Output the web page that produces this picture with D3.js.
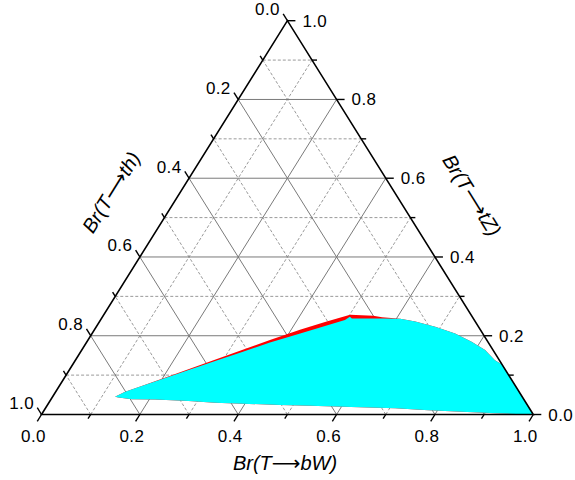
<!DOCTYPE html>
<html>
<head>
	<meta charset="utf-8">
	<title>ternary</title>
	<script src="https://cdnjs.cloudflare.com/ajax/libs/d3/7.8.5/d3.min.js"></script>
	<style>
		body {
			margin: 0;
			background-color: #fff;
		}
		text {
			font-family: 'Liberation Sans', Arial, sans-serif;
			fill: #000;
		}
		.tick-label {
			font-size: 17px;
			letter-spacing: 0.4px;
		}
		.title {
			font-size: 20px;
			font-style: italic;
		}
		.arrow {
			font-family: 'DejaVu Sans', sans-serif;
			font-style: normal;
		}
		.grid-major {
			stroke: #7a7a7a;
			stroke-width: 1;
		}
		.grid-minor {
			stroke: #9a9a9a;
			stroke-width: 1;
			stroke-dasharray: 3,2;
		}
		.axis-line {
			stroke: #000;
			stroke-width: 1.6;
			fill: none;
		}
	</style>
</head>

<body>
	<div id="chart"></div>
</body>

<script>
	// Tick values and labels, shared by all three axes.
	const majorTicks = [0, 0.2, 0.4, 0.6, 0.8, 1.0];
	const minorTicks = [0.1, 0.3, 0.5, 0.7, 0.9];
	const tickLabels = ['0.0', '0.2', '0.4', '0.6', '0.8', '1.0'];

	// Allowed region (cyan), boundary as Br(T->bW) and Br(T->tZ); Br(T->th) = 1 - bW - tZ.
	const cyanBW = [0.127, 0.141, 0.162, 0.205, 0.245, 0.285, 0.325, 0.373, 0.423, 0.464, 0.497, 0.503, 0.509,
		0.539, 0.573, 0.608, 0.642, 0.689, 0.738, 0.782, 0.820, 0.853, 0.873, 1.0,
		0.921, 0.851, 0.781, 0.711, 0.620, 0.535, 0.473, 0.338, 0.282, 0.212, 0.164, 0.135];
	const cyanTZ = [0.045, 0.058, 0.069, 0.093, 0.114, 0.136, 0.157, 0.183, 0.206, 0.225, 0.240, 0.248, 0.244,
		0.244, 0.244, 0.243, 0.236, 0.223, 0.206, 0.185, 0.164, 0.138, 0.127, 0.0,
		0.003, 0.007, 0.011, 0.016, 0.019, 0.022, 0.024, 0.030, 0.034, 0.038, 0.039, 0.043];

	// Second region (red), mostly hidden under the cyan one.
	const redBW = [0.127, 0.141, 0.162, 0.205, 0.283, 0.370, 0.418, 0.459, 0.501, 0.549, 0.569,
		0.608, 0.642, 0.689, 0.738, 0.782, 0.820, 0.853, 0.873, 1.0,
		0.921, 0.851, 0.781, 0.711, 0.620, 0.535, 0.473, 0.338, 0.282, 0.212, 0.164, 0.135];
	const redTZ = [0.045, 0.058, 0.069, 0.094, 0.139, 0.189, 0.215, 0.235, 0.253, 0.251, 0.247,
		0.243, 0.236, 0.223, 0.206, 0.185, 0.164, 0.138, 0.127, 0.0,
		0.003, 0.007, 0.011, 0.016, 0.019, 0.022, 0.024, 0.030, 0.034, 0.038, 0.039, 0.043];

	const svg = d3.select('#chart')
		.append('svg')
		.attr('width', 575)
		.attr('height', 480);

	// Base runs along bW, height along tZ.
	const xScale = d3.scaleLinear().domain([0, 1]).range([41.5, 533.3]);
	const yScale = d3.scaleLinear().domain([0, 1]).range([414.5, 20.7]);
	function pt(bW, tZ) {
		return [xScale(bW + tZ / 2), yScale(tZ)];
	}

	// Grid lines in the three directions.
	function gridLines(values, cls) {
		const g = svg.append('g').attr('class', cls);
		values.forEach(function (v) {
			const segs = [
				[pt(0, v), pt(1 - v, v)],          // constant tZ
				[pt(v, 0), pt(v, 1 - v)],          // constant bW
				[pt(1 - v, 0), pt(0, 1 - v)]       // constant th
			];
			segs.forEach(function (s) {
				g.append('line')
					.attr('x1', s[0][0]).attr('y1', s[0][1])
					.attr('x2', s[1][0]).attr('y2', s[1][1]);
			});
		});
	}
	gridLines(minorTicks, 'grid-minor');
	gridLines(majorTicks.slice(1, -1), 'grid-major');

	// Regions.
	const line = d3.line();
	svg.append('path')
		.attr('d', line(redBW.map(function (b, i) { return pt(b, redTZ[i]); })) + 'Z')
		.attr('fill', '#ff0000');
	svg.append('path')
		.attr('d', line(cyanBW.map(function (b, i) { return pt(b, cyanTZ[i]); })) + 'Z')
		.attr('fill', '#00ffff');

	// Triangle outline.
	svg.append('path')
		.attr('class', 'axis-line')
		.attr('d', line([pt(0, 0), pt(1, 0), pt(0, 1)]) + 'Z');

	// Tick directions (follow the grid lines outward).
	const ang = Math.atan2(yScale(0) - yScale(1), xScale(0.5) - xScale(0));
	const dirBottom = [-Math.cos(ang), Math.sin(ang)];
	const dirLeft = [-Math.cos(ang), -Math.sin(ang)];
	const dirRight = [1, 0];
	const ticksG = svg.append('g');
	function tick(p, dir, len) {
		ticksG.append('line')
			.attr('x1', p[0]).attr('y1', p[1])
			.attr('x2', p[0] + dir[0] * len).attr('y2', p[1] + dir[1] * len)
			.attr('stroke', '#000')
			.attr('stroke-width', 1.4);
	}
	majorTicks.forEach(function (v) {
		tick(pt(v, 0), dirBottom, 8);
		tick(pt(1 - v, v), dirRight, 8);
		tick(pt(0, 1 - v), dirLeft, 8);
	});
	minorTicks.forEach(function (v) {
		tick(pt(v, 0), dirBottom, 5);
		tick(pt(1 - v, v), dirRight, 5);
		tick(pt(0, 1 - v), dirLeft, 5);
	});

	// Tick labels.
	majorTicks.forEach(function (v, i) {
		const b = pt(v, 0);
		svg.append('text')
			.attr('class', 'tick-label')
			.attr('x', b[0] - 8).attr('y', b[1] + 27.5)
			.attr('text-anchor', 'middle')
			.text(tickLabels[i]);
		const r = pt(1 - v, v);
		svg.append('text')
			.attr('class', 'tick-label')
			.attr('x', r[0] + 15).attr('y', r[1] + 6)
			.attr('text-anchor', 'start')
			.text(tickLabels[i]);
		const l = pt(0, 1 - v);
		svg.append('text')
			.attr('class', 'tick-label')
			.attr('x', l[0] - 7.5).attr('y', l[1] - 5.5)
			.attr('text-anchor', 'end')
			.text(tickLabels[i]);
	});

	// Axis titles, with a long arrow glyph.
	const deg = ang * 180 / Math.PI;
	function title(transform, target) {
		const t = svg.append('text')
			.attr('class', 'title')
			.attr('text-anchor', 'middle')
			.attr('transform', transform);
		t.append('tspan').text('Br(T');
		t.append('tspan').attr('class', 'arrow').text('\u27F6');
		t.append('tspan').text(target + ')');
	}
	title('translate(285,470)', 'bW');
	title('translate(117,196) rotate(' + (-deg) + ')', 'th');
	title('translate(466,199) rotate(' + deg + ')', 'tZ');
</script>

</html>
